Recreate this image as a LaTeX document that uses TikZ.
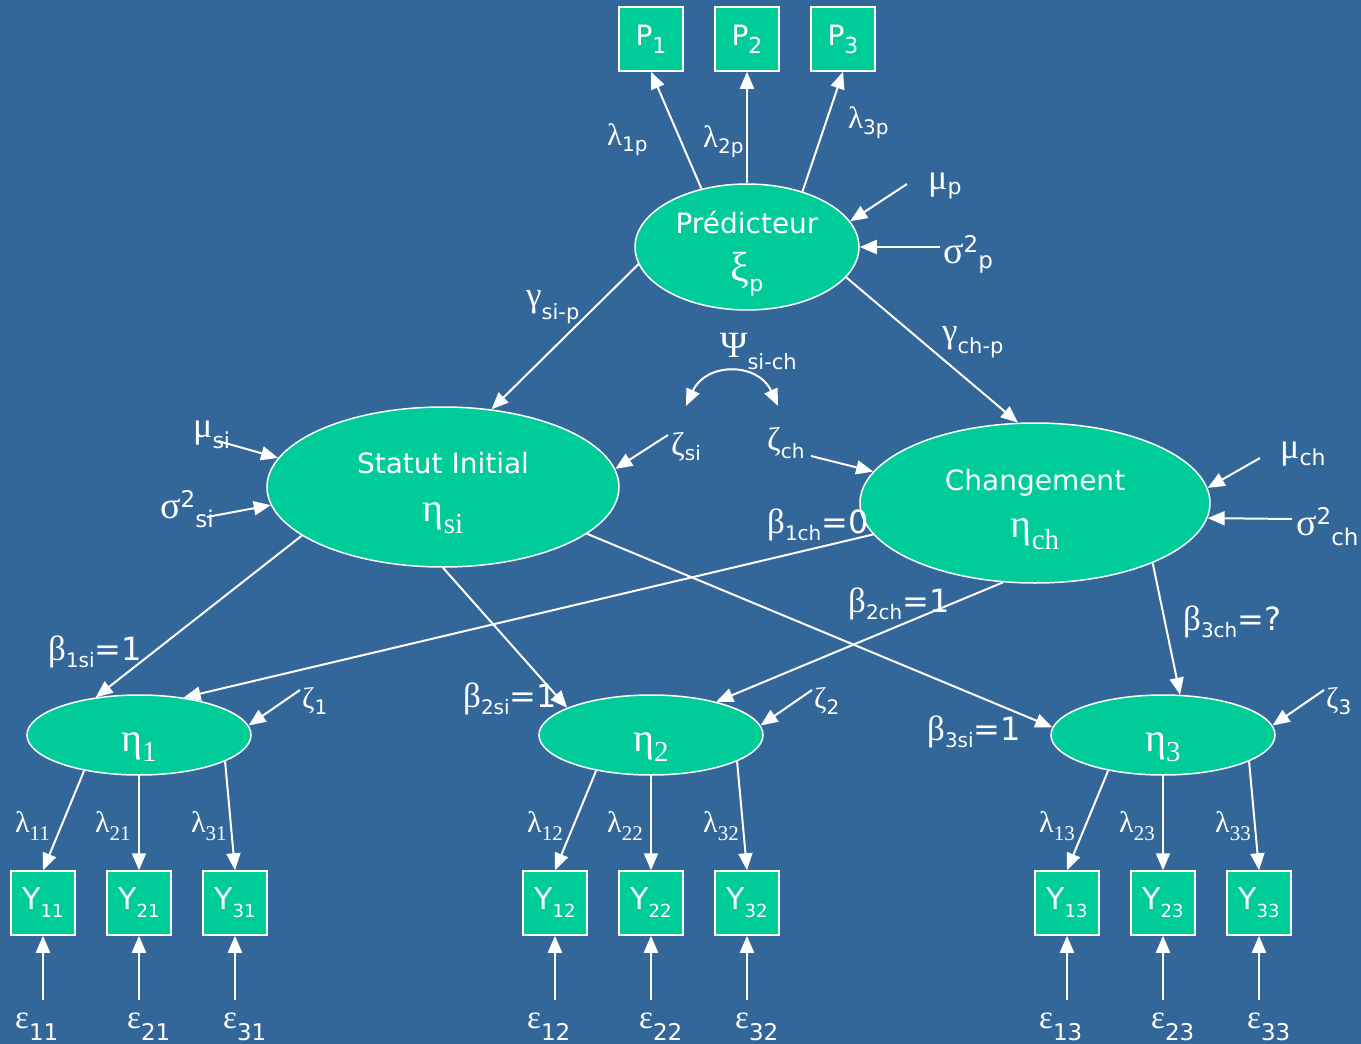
\documentclass[tikz,border=0pt]{standalone}
\usepackage{fontspec}
\setmainfont{DejaVu Sans}
\newfontfamily\gk{Liberation Serif}
\usetikzlibrary{arrows.meta,shapes.geometric}
\definecolor{bgblue}{RGB}{51,102,153}
\definecolor{lgreen}{RGB}{0,204,153}
\newcommand\fs[1]{\fontsize{#1}{#1}\selectfont}
\newcommand\GS[5]{{\fs{#1}\gk #2}\raisebox{-#4pt}{\fs{#3}#5}}
\newcommand\SIG[2]{{\fs{38}\gk σ}\raisebox{11pt}{\fs{23}2}\raisebox{-#1pt}{\fs{23}#2}}
\newcommand\BET[2]{{\fs{35}\gk β}\raisebox{-7pt}{\fs{20}#1}{\fs{32}#2}}
\newcommand\YB[1]{\fs{30}Y\raisebox{-8pt}{\fs{18}#1}}
\newcommand\PB[1]{\fs{28}P\raisebox{-8pt}{\fs{22}#1}}
\newcommand\ETA[1]{\GS{40}{η}{29}{10}{\gk #1}}
\begin{document}
\begin{tikzpicture}[x=1pt,y=-1pt,
  arr/.style={white,line width=2pt,-{Triangle[length=17pt,width=14pt]}},
  dbl/.style={white,line width=2pt,{Triangle[length=17pt,width=14pt]}-{Triangle[length=17pt,width=14pt]}},
  obs/.style={draw=white,line width=1.5pt,fill=lgreen,minimum size=64pt,inner sep=0pt,text=white},
  lat/.style={ellipse,draw=white,line width=1.5pt,fill=lgreen,inner sep=0pt},
  ltext/.style={anchor=base,inner sep=0pt,text=white,font=\fs{28}},
  lab/.style={anchor=base west,inner sep=0pt,text=white}]

\useasboundingbox (0,0) rectangle (1361,1044);
\fill[bgblue] (0,0) rectangle (1361,1044);

% predictor indicators
\node[obs] (P1) at (651,39) {\PB{1}};
\node[obs] (P2) at (747,39) {\PB{2}};
\node[obs] (P3) at (843,39) {\PB{3}};

% latent variables
\node[lat,minimum width=224pt,minimum height=126pt] (pred) at (747,247) {};
\node[ltext] (predT) at ([yshift=14pt]pred.center) {Prédicteur};
\node[ltext] (predG) at ([yshift=-34pt]pred.center) {\GS{42}{ξ}{22}{10}{p}};

\node[lat,minimum width=352pt,minimum height=160pt] (stat) at (443,487) {};
\node[ltext] (statT) at ([yshift=14pt]stat.center) {Statut Initial};
\node[ltext] (statG) at ([yshift=-34pt]stat.center) {\GS{40}{η}{29}{12}{\gk si}};

\node[lat,minimum width=350pt,minimum height=160pt] (chg) at (1035,503) {};
\node[ltext] (chgT) at ([yshift=13pt]chg.center) {Changement};
\node[ltext] (chgG) at ([yshift=-34pt]chg.center) {\GS{40}{η}{29}{12}{\gk ch}};

\node[lat,minimum width=224pt,minimum height=80pt] (e1) at (139,735) {};
\node[ltext] (e1G) at ([yshift=-16pt]e1.center) {\ETA{1}};
\node[lat,minimum width=224pt,minimum height=80pt] (e2) at (651,735) {};
\node[ltext] (e2G) at ([yshift=-16pt]e2.center) {\ETA{2}};
\node[lat,minimum width=224pt,minimum height=80pt] (e3) at (1163,735) {};
\node[ltext] (e3G) at ([yshift=-16pt]e3.center) {\ETA{3}};

% observed Y
\node[obs] (Y11) at (43,903) {\YB{11}};
\node[obs] (Y21) at (139,903) {\YB{21}};
\node[obs] (Y31) at (235,903) {\YB{31}};
\node[obs] (Y12) at (555,903) {\YB{12}};
\node[obs] (Y22) at (651,903) {\YB{22}};
\node[obs] (Y32) at (747,903) {\YB{32}};
\node[obs] (Y13) at (1067,903) {\YB{13}};
\node[obs] (Y23) at (1163,903) {\YB{23}};
\node[obs] (Y33) at (1259,903) {\YB{33}};

% labels
\node[lab] (l1p) at (607,145) {\GS{31}{λ}{20}{6}{1p}};
\node[lab] (l2p) at (703,147) {\GS{31}{λ}{20}{6}{2p}};
\node[lab] (l3p) at (848,128) {\GS{31}{λ}{20}{6}{3p}};
\node[lab] (mup) at (928,189) {\GS{36}{μ}{22}{5}{p}};
\node[lab] (sigp) at (943,263) {\SIG{5}{p}};
\node[lab] (gsi) at (526,306) {\GS{35}{γ}{21}{13}{si-p}};
\node[lab] (gch) at (942,342) {\GS{35}{γ}{21}{11}{ch-p}};
\node[lab] (psi) at (720,357) {\GS{37}{Ψ}{21}{12}{si-ch}};
\node[lab] (zsi) at (671,455) {\GS{33}{ζ}{20}{5}{si}};
\node[lab] (zch) at (767,450) {\GS{33}{ζ}{20}{8}{ch}};
\node[lab] (musi) at (193,437) {\GS{36}{μ}{22}{11}{si}};
\node[lab] (sigsi) at (160,518) {\SIG{9}{si}};
\node[lab] (much) at (1280,458) {\GS{36}{μ}{22}{7}{ch}};
\node[lab] (sigch) at (1296,535) {\SIG{10}{ch}};
\node[lab] (b1ch) at (767,533) {\BET{1ch}{=0}};
\node[lab] (b2ch) at (848,612) {\BET{2ch}{=1}};
\node[lab] (b3ch) at (1183,630) {\BET{3ch}{=?}};
\node[lab] (b1si) at (48,660) {\BET{1si}{=1}};
\node[lab] (b2si) at (463,707) {\BET{2si}{=1}};
\node[lab] (b3si) at (927,740) {\BET{3si}{=1}};
\node[lab] (z1) at (302,708) {\GS{30}{ζ}{20}{6}{1}};
\node[lab] (z2) at (814,708) {\GS{30}{ζ}{20}{6}{2}};
\node[lab] (z3) at (1326,708) {\GS{30}{ζ}{20}{6}{3}};
\node[lab] (l11) at (15,832) {\GS{30}{λ}{21}{8}{\gk 11}};
\node[lab] (l21) at (95,832) {\GS{30}{λ}{21}{8}{\gk 21}};
\node[lab] (l31) at (191,832) {\GS{30}{λ}{21}{8}{\gk 31}};
\node[lab] (l12) at (527,832) {\GS{30}{λ}{21}{8}{\gk 12}};
\node[lab] (l22) at (607,832) {\GS{30}{λ}{21}{8}{\gk 22}};
\node[lab] (l32) at (703,832) {\GS{30}{λ}{21}{8}{\gk 32}};
\node[lab] (l13) at (1039,832) {\GS{30}{λ}{21}{8}{\gk 13}};
\node[lab] (l23) at (1119,832) {\GS{30}{λ}{21}{8}{\gk 23}};
\node[lab] (l33) at (1215,832) {\GS{30}{λ}{21}{8}{\gk 33}};
\node[lab] (x11) at (15,1028) {\GS{33}{ε}{23}{12}{11}};
\node[lab] (x21) at (127,1028) {\GS{33}{ε}{23}{12}{21}};
\node[lab] (x31) at (223,1028) {\GS{33}{ε}{23}{12}{31}};
\node[lab] (x12) at (527,1028) {\GS{33}{ε}{23}{12}{12}};
\node[lab] (x22) at (639,1028) {\GS{33}{ε}{23}{12}{22}};
\node[lab] (x32) at (735,1028) {\GS{33}{ε}{23}{12}{32}};
\node[lab] (x13) at (1039,1028) {\GS{33}{ε}{23}{12}{13}};
\node[lab] (x23) at (1151,1028) {\GS{33}{ε}{23}{12}{23}};
\node[lab] (x33) at (1247,1028) {\GS{33}{ε}{23}{12}{33}};

% free ends
\coordinate (cmup) at (907,184);
\coordinate (csigp) at (940,247);
\coordinate (cmusi) at (218,441);
\coordinate (csigsi) at (207,517);
\coordinate (czsi) at (668,435);
\coordinate (czch) at (811,456);
\coordinate (cmuch) at (1260,458);
\coordinate (csigch) at (1292,519);
\coordinate (cz1) at (300,690);
\coordinate (cz2) at (812,690);
\coordinate (cz3) at (1324,690);
\coordinate (psiL) at (686,406);
\coordinate (psiR) at (778,406);
\coordinate (ce11) at (43,1000);
\coordinate (ce21) at (139,1000);
\coordinate (ce31) at (235,1000);
\coordinate (ce12) at (555,1000);
\coordinate (ce22) at (651,1000);
\coordinate (ce32) at (747,1000);
\coordinate (ce13) at (1067,1000);
\coordinate (ce23) at (1163,1000);
\coordinate (ce33) at (1259,1000);

% predictor connectors
\draw[arr] (pred.128) -- (P1.south);
\draw[arr] (pred.north) -- (P2.south);
\draw[arr] (pred.45) -- (P3.south);
\draw[arr] (cmup) -- (pred.14);
\draw[arr] (csigp) -- (pred.east);
\draw[arr] (pred.189) -- (stat.58);
\draw[arr] (pred.343) -- (chg.102);
\draw[dbl] (psiL) .. controls (706,362) and (758,362) .. (psiR);

% disturbances and means
\draw[arr] (cmusi) -- (stat.170);
\draw[arr] (csigsi) -- (stat.186);
\draw[arr] (czsi) -- (stat.6);
\draw[arr] (czch) -- (chg.169);
\draw[arr] (cmuch) -- (chg.5.5);
\draw[arr] (csigch) -- (chg.355);
\draw[arr] (cz1) -- (e1.5);
\draw[arr] (cz2) -- (e2.5);
\draw[arr] (cz3) -- (e3.5);

% growth loadings
\draw[arr] (stat.199) -- (e1.139);
\draw[arr] (stat.south) -- (e2.162);
\draw[arr] (stat.342) -- (e3.176);
\draw[arr] (chg.191) -- (e1.40);
\draw[arr] (chg.248) -- (e2.27);
\draw[arr] (chg.333) -- (e3.67);

% measurement
\foreach \e/\a/\b/\c in {e1/Y11/Y21/Y31, e2/Y12/Y22/Y32, e3/Y13/Y23/Y33}{
  \draw[arr] (\e.213) -- (\a.north);
  \draw[arr] (\e.south) -- (\b.north);
  \draw[arr] (\e.343) -- (\c.north);
}
\foreach \y in {11,21,31,12,22,32,13,23,33}{
  \draw[arr] (ce\y) -- (Y\y.south);
}
\end{tikzpicture}
\end{document}
